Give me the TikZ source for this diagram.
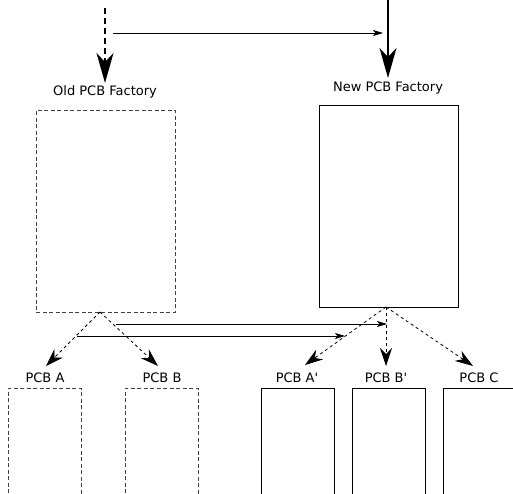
\documentclass[tikz,border=0pt]{standalone}
\usepackage{fontspec}
\newfontfamily\dvsans{DejaVu Sans}
\usetikzlibrary{arrows.meta}
\begin{document}
\begin{tikzpicture}[x=1pt,y=-1pt,
  lbl/.style={anchor=base,inner sep=0pt,font=\dvsans\fontsize{13}{15}\selectfont},
  fac/.style={draw,line width=0.9pt,minimum width=139pt,minimum height=202pt,inner sep=0pt,anchor=north west},
  pcb/.style={draw,line width=0.9pt,minimum width=73pt,minimum height=130pt,inner sep=0pt,anchor=north west},
  olddash/.style={dash pattern=on 4pt off 2.5pt,draw=black!75},
  bigtip/.style={-{Stealth[length=30pt,width=17pt,inset=9pt]}},
  midtip/.style={-{Stealth[length=18pt,width=12pt,inset=6pt]},dash pattern=on 3pt off 3pt,line width=0.8pt},
  smalltip/.style={-{Stealth[length=10pt,width=6pt,inset=2.5pt]},line width=0.7pt}
]
\clip (0,0) rectangle (513,494);
\fill[white] (0,0) rectangle (513,494);
% factory boxes
\node[fac,olddash] (old) at (36,110) {};
\node[fac] (new) at (319,105) {};
\node[lbl] (oldl) at (105,96) {Old PCB Factory};
\node[lbl] (newl) at (388,92) {New PCB Factory};
% top arrows
\coordinate (ot) at (105,8);
\coordinate (oe) at (105,83);
\coordinate (nt) at (388,0);
\coordinate (ne) at (388,78);
\draw[bigtip,line width=1.6pt,dash pattern=on 6pt off 4pt] (ot) -- (oe);
\draw[bigtip,line width=1.8pt] (nt) -- (ne);
\coordinate (hs) at (113,33);
\coordinate (he) at (383,33);
\draw[smalltip] (hs) -- (he);
% small boxes
\node[pcb,olddash] (a) at (8,388) {};
\node[pcb,olddash] (b) at (125,388) {};
\node[pcb] (ap) at (261,388) {};
\node[pcb] (bp) at (352,388) {};
\node[pcb] (c) at (443,388) {};
\node[lbl] (al) at (45,382) {PCB A};
\node[lbl] (bl) at (162,382) {PCB B};
\node[lbl] (apl) at (297,382) {PCB A'};
\node[lbl] (bpl) at (386,382) {PCB B'};
\node[lbl] (cl) at (479,382) {PCB C};
% split arrows
\coordinate (oapex) at (100,312);
\coordinate (napex) at (386,307);
\coordinate (ta) at (46,366);
\coordinate (tb) at (158,366);
\coordinate (tap) at (305,365);
\coordinate (tbp) at (386,366);
\coordinate (tc) at (473,366);
\draw[midtip] (oapex) -- (ta);
\draw[midtip] (oapex) -- (tb);
\draw[midtip] (napex) -- (tap);
\draw[midtip] (napex) -- (tbp);
\draw[midtip] (napex) -- (tc);
% cross arrows
\coordinate (h1s) at (116,324);
\coordinate (h1e) at (387,324);
\coordinate (h2s) at (77,336);
\coordinate (h2e) at (345,336);
\draw[smalltip] (h1s) -- (h1e);
\draw[smalltip] (h2s) -- (h2e);
\end{tikzpicture}
\end{document}
